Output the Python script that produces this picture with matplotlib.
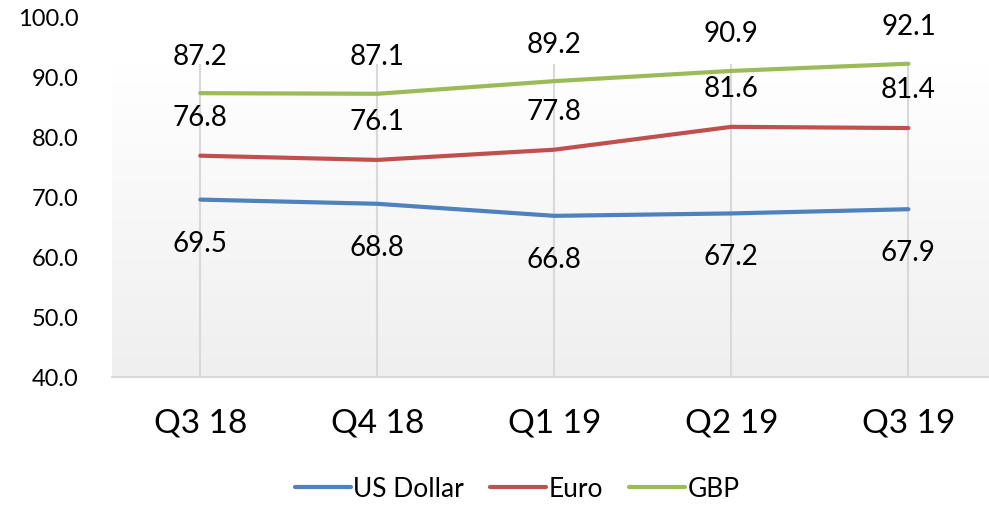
import numpy as np
import matplotlib.pyplot as plt
from matplotlib.colors import LinearSegmentedColormap

# 数据
quarters = ["Q3 18", "Q4 18", "Q1 19", "Q2 19", "Q3 19"]
usd = [69.5, 68.8, 66.8, 67.2, 67.9]
eur = [76.8, 76.1, 77.8, 81.6, 81.4]
gbp = [87.2, 87.1, 89.2, 90.9, 92.1]

plt.rcParams.update({"font.family": ["Lato", "DejaVu Sans"]})

fig = plt.figure(figsize=(9.89, 5.06), dpi=100)
ax = fig.add_axes([0.113, 0.253, 0.895, 0.713])

x = np.arange(len(quarters))
ax.set_xlim(-0.5, len(quarters) - 0.5)
ax.set_ylim(40, 100)

# 渐变背景（Excel 绘图区只到约 92）
bg_top = 92.1
grad = np.linspace(0, 1, 256).reshape(-1, 1)
cmap_bg = LinearSegmentedColormap.from_list("bg", ["#efefef", "#ffffff"])
ax.imshow(grad, cmap=cmap_bg, origin="lower", aspect="auto",
          extent=(-0.5, len(quarters) - 0.5, 40, bg_top), zorder=0)

# 竖向网格线
ax.vlines(x, 40, bg_top, color="#d9d9d9", lw=1.5, zorder=1)

series = [
    ("US Dollar", usd, "#4f81bd", -31),
    ("Euro", eur, "#c0504d", 28),
    ("GBP", gbp, "#9bbb59", 27),
]
for name, vals, color, off in series:
    ax.plot(x, vals, color=color, lw=3, solid_capstyle="round", label=name, zorder=3)
    for xi, v in zip(x, vals):
        ax.annotate(f"{v:.1f}", (xi, v), xytext=(0, off), textcoords="offset points",
                    ha="center", va="center", fontsize=20, zorder=4)

ax.set_xticks(x)
ax.set_xticklabels(quarters, fontsize=24)
ax.set_yticks(np.arange(40, 101, 10))
ax.set_yticklabels([f"{v:.1f}" for v in np.arange(40, 101, 10)], fontsize=17)
ax.tick_params(axis="both", length=0)
ax.tick_params(axis="x", pad=22)
ax.tick_params(axis="y", pad=24)

for s in ["top", "right", "left"]:
    ax.spines[s].set_visible(False)
ax.spines["bottom"].set_color("#d9d9d9")
ax.spines["bottom"].set_linewidth(1.5)
ax.set_facecolor("none")

fig.legend(loc="center", bbox_to_anchor=(0.523, 0.032), ncol=3, frameon=False,
           fontsize=19, handlelength=2.1, handletextpad=0.1, columnspacing=1.0)

fig.savefig("out.png", dpi=100)
